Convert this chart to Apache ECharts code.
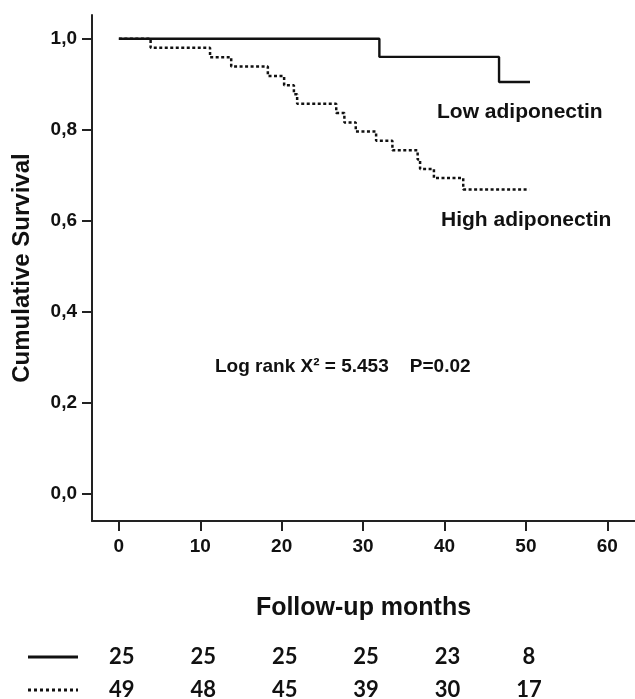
<!DOCTYPE html>
<html>
<head>
<meta charset="utf-8">
<script src="https://cdn.jsdelivr.net/npm/echarts@6/dist/echarts.min.js"></script>
<style>
html,body{margin:0;padding:0;background:#fff;}
#chart{width:635px;height:699px;}
</style>
</head>
<body>
<div id="chart"></div>
<script>
// ---- Data ----
const lowSeries = [[0,1.0],[32.0,0.960],[46.7,0.905],[50.5,0.905]];
const highSeries = [[0,1.0],[3.9,0.980],[11.2,0.959],[13.8,0.939],[18.3,0.918],[20.3,0.898],
  [21.5,0.878],[21.9,0.857],[26.7,0.837],[27.7,0.816],[29.1,0.796],[31.6,0.776],
  [33.6,0.755],[36.7,0.735],[37.0,0.714],[38.7,0.694],[42.3,0.669],[50.4,0.669]];
const xTicks = [0,10,20,30,40,50,60];
const yTicks = [0,0.2,0.4,0.6,0.8,1.0];
const atRiskMonths = [0,10,20,30,40,50];
const lowAtRisk = [25,25,25,25,23,8];
const highAtRisk = [49,48,45,39,30,17];
const lowLabel = 'Low adiponectin';
const highLabel = 'High adiponectin';
const statText = 'Log rank X\u00B2 = 5.453    P=0.02';

const chart = echarts.init(document.getElementById('chart'), null, {renderer:'canvas'});
const AX = '#222';
const FONT = '"Liberation Sans", Arial, sans-serif';

const option = {
  animation:false,
  backgroundColor:'#fff',
  grid:{left:92, right:0, top:15, bottom:178, containLabel:false},
  xAxis:{
    type:'value', min:-3.3, max:63.4,
    splitLine:{show:false},
    axisLine:{onZero:false, lineStyle:{color:AX, width:2}},
    axisTick:{customValues:xTicks, length:10, lineStyle:{color:AX, width:2}},
    axisLabel:{customValues:xTicks, margin:16, color:'#111', fontSize:19, fontWeight:'bold', fontFamily:FONT},
    name:'Follow-up months', nameLocation:'middle', nameGap:75,
    nameTextStyle:{color:'#111', fontSize:25, fontWeight:'bold', fontFamily:FONT}
  },
  yAxis:{
    type:'value', min:-0.059, max:1.052,
    splitLine:{show:false},
    axisLine:{onZero:false, lineStyle:{color:AX, width:2}},
    axisTick:{customValues:yTicks, length:10, lineStyle:{color:AX, width:2}},
    axisLabel:{customValues:yTicks, margin:15, color:'#111', fontSize:19, fontWeight:'bold', fontFamily:FONT,
      formatter:v=>v.toFixed(1).replace('.',',')},
    name:'Cumulative Survival', nameLocation:'middle', nameGap:58, nameRotate:90,
    nameTextStyle:{color:'#111', fontSize:24, fontWeight:'bold', fontFamily:FONT}
  },
  series:[
    {type:'line', name:lowLabel, data:lowSeries, step:'end', symbol:'none',
     lineStyle:{color:'#111', width:2.4, type:'solid'}},
    {type:'line', name:highLabel, data:highSeries, step:'end', symbol:'none',
     lineStyle:{color:'#111', width:2.5, type:[3,2.5]}}
  ]
};
chart.setOption(option);

function px(m){ return chart.convertToPixel({xAxisIndex:0}, m); }
const tableFont = 'Lato, "Open Sans", sans-serif';
const g = [];
g.push({type:'text', x:437, y:112, style:{text:lowLabel, fill:'#111', font:'bold 21px '+FONT, verticalAlign:'middle'}});
g.push({type:'text', x:441, y:220, style:{text:highLabel, fill:'#111', font:'bold 21px '+FONT, verticalAlign:'middle'}});
g.push({type:'text', x:215, y:367, style:{text:statText, fill:'#111', font:'bold 19px '+FONT, verticalAlign:'middle'}});
// legend strokes of the at-risk table
g.push({type:'line', shape:{x1:28,y1:657,x2:78,y2:657}, style:{stroke:'#111', lineWidth:3}});
g.push({type:'line', shape:{x1:28,y1:690,x2:78,y2:690}, style:{stroke:'#111', lineWidth:3, lineDash:[3,3]}});
atRiskMonths.forEach((m,i)=>{
  const x = px(m) + 3;
  g.push({type:'text', x:x, y:657, style:{text:String(lowAtRisk[i]), fill:'#111', font:'bold 22px '+tableFont, align:'center', verticalAlign:'middle'}});
  g.push({type:'text', x:x, y:690, style:{text:String(highAtRisk[i]), fill:'#111', font:'bold 22px '+tableFont, align:'center', verticalAlign:'middle'}});
});
chart.setOption({graphic:g});
</script>
</body>
</html>
